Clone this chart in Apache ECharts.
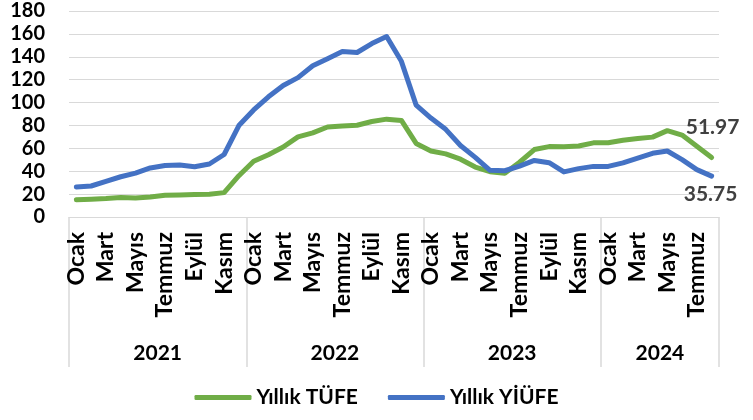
<!DOCTYPE html>
<html>
<head>
<meta charset="utf-8">
<script src="https://cdn.jsdelivr.net/npm/echarts@6/dist/echarts.min.js"></script>
<style>
html,body{margin:0;padding:0;background:#fff;}
#chart{width:753px;height:420px;}
</style>
</head>
<body>
<div id="chart"></div>
<script>
const monthNames = ['Ocak','Şubat','Mart','Nisan','Mayıs','Haziran','Temmuz','Ağustos','Eylül','Ekim','Kasım','Aralık'];
const years = ['2021','2022','2023','2024'];
const monthsPerYear = [12, 12, 12, 8];
const tufe = [
  14.97, 15.61, 16.19, 17.14, 16.59, 17.53, 18.95, 19.25, 19.58, 19.89, 21.31, 36.08,
  48.69, 54.44, 61.14, 69.97, 73.50, 78.62, 79.60, 80.21, 83.45, 85.51, 84.39, 64.27,
  57.68, 55.18, 50.51, 43.68, 39.59, 38.21, 47.83, 58.94, 61.53, 61.36, 61.98, 64.77,
  64.86, 67.07, 68.50, 69.80, 75.45, 71.60, 61.78, 51.97
];
const yiufe = [
  26.16, 27.09, 31.20, 35.17, 38.33, 42.89, 44.92, 45.52, 43.96, 46.31, 54.62, 79.89,
  93.53, 105.01, 114.97, 121.82, 132.16, 138.31, 144.61, 143.75, 151.50, 157.69, 136.02, 97.72,
  86.46, 76.61, 62.45, 52.11, 40.76, 40.42, 44.50, 49.41, 47.44, 39.39, 42.25, 44.22,
  44.20, 47.29, 51.47, 55.66, 57.68, 50.09, 41.37, 35.75
];
const seriesNames = ['Yıllık TÜFE', 'Yıllık YİÜFE'];
const yTicks = [0, 20, 40, 60, 80, 100, 120, 140, 160, 180];

// month categories
const months = [];
monthsPerYear.forEach((n, yi) => { for (let m = 0; m < n; m++) months.push(monthNames[m] + ' ' + years[yi]); });
// half-month boundary points for year level
const halfPts = [];
const yearLabelAt = {};
const yearBounds = {0: true};
let pos = 0;
monthsPerYear.forEach((n, yi) => {
  yearLabelAt[pos + n] = years[yi];
  pos += 2 * n;
  yearBounds[pos] = true;
});
for (let i = 0; i <= pos; i++) halfPts.push(yearLabelAt[i] || ('p' + i));

const FONT = 'Lato';
const chart = echarts.init(document.getElementById('chart'), null, {renderer: 'canvas'});
chart.setOption({
  animation: false,
  textStyle: {fontFamily: FONT},
  grid: {left: 69, right: 34, top: 11, bottom: 203, containLabel: false},
  legend: {
    bottom: 7, left: 'center',
    icon: 'roundRect', itemWidth: 57, itemHeight: 5, itemGap: 30,
    textStyle: {fontFamily: FONT, fontWeight: 'bold', fontSize: 21, color: '#000'},
    data: seriesNames
  },
  xAxis: [
    {
      type: 'category', data: months, boundaryGap: true, position: 'bottom',
      axisLine: {show: true, lineStyle: {color: '#d9d9d9', width: 1}},
      axisTick: {show: false},
      axisLabel: {
        interval: 1, rotate: 90, margin: 15,
        fontFamily: FONT, fontWeight: 'bold', fontSize: 23, color: '#000',
        formatter: v => v.split(' ')[0]
      }
    },
    {
      type: 'category', data: halfPts, boundaryGap: false, position: 'bottom',
      axisLine: {show: false},
      axisTick: {show: true, length: 150, inside: false, lineStyle: {color: '#d9d9d9', width: 1.5},
        interval: (i) => !!yearBounds[i]},
      axisLabel: {
        interval: (i, v) => v.charAt(0) !== 'p', margin: 126,
        fontFamily: FONT, fontWeight: 'bold', fontSize: 21, color: '#000'
      }
    }
  ],
  yAxis: {
    type: 'value', min: yTicks[0], max: yTicks[yTicks.length - 1], interval: 20,
    axisLine: {show: false}, axisTick: {show: false},
    splitLine: {lineStyle: {color: '#d9d9d9', width: 1}},
    axisLabel: {margin: 24, fontFamily: FONT, fontWeight: 'bold', fontSize: 20, color: '#000'}
  },
  series: [
    {
      name: seriesNames[0], type: 'line', data: tufe, xAxisIndex: 0,
      showSymbol: false, symbol: 'none',
      lineStyle: {color: '#70AD47', width: 5, cap: 'round', join: 'round'},
      itemStyle: {color: '#70AD47'},
      endLabel: {
        show: true, align: 'center', verticalAlign: 'middle', distance: 0, offset: [1, -30],
        fontFamily: FONT, fontWeight: 'bold', fontSize: 21, color: '#404040',
        formatter: p => p.value.toFixed(2)
      }
    },
    {
      name: seriesNames[1], type: 'line', data: yiufe, xAxisIndex: 0,
      showSymbol: false, symbol: 'none',
      lineStyle: {color: '#4472C4', width: 5, cap: 'round', join: 'round'},
      itemStyle: {color: '#4472C4'},
      endLabel: {
        show: true, align: 'center', verticalAlign: 'middle', distance: 0, offset: [-1, 18],
        fontFamily: FONT, fontWeight: 'bold', fontSize: 21, color: '#404040',
        formatter: p => p.value.toFixed(2)
      }
    }
  ]
});
</script>
</body>
</html>
